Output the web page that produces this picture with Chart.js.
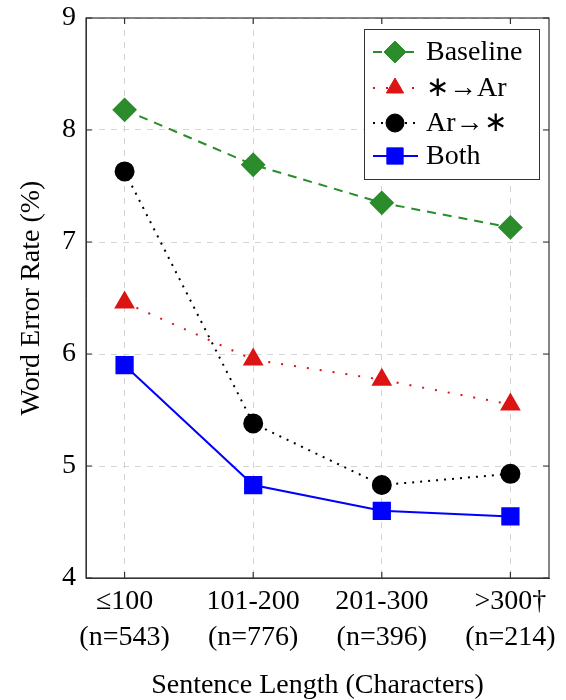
<!DOCTYPE html>
<html>
<head>
<meta charset="utf-8">
<script src="https://cdn.jsdelivr.net/npm/chart.js@4"></script>
<style>
  html, body { margin: 0; padding: 0; background: #fff; }
  #wrap { width: 566px; height: 700px; }
</style>
</head>
<body>
<div id="wrap"><canvas id="werChart" width="566" height="700"></canvas></div>
<script>
// categories (two-line tick labels)
var lengthLabels = [["\u2264100", "(n=543)"], ["101-200", "(n=776)"], ["201-300", "(n=396)"], [">300\u2020", "(n=214)"]];
var seriesNames = ["Baseline", "\u2217\u2192Ar", "Ar\u2192\u2217", "Both"];
var baseline = [8.18, 7.69, 7.35, 7.13];
var toAr = [6.46, 5.95, 5.77, 5.55];
var fromAr = [7.63, 5.38, 4.83, 4.93];
var both = [5.90, 4.83, 4.60, 4.55];
var yTicks = [4, 5, 6, 7, 8, 9];

var serif = "'Liberation Serif', 'Times New Roman', serif";
var fontSize = 28;

function points(values) {
    var out = [];
    for (var i = 0; i < values.length; i++) out.push({x: i, y: values[i]});
    return out;
}

// legend with line sample + marker, like pgfplots
var lineLegend = {
    id: 'lineLegend',
    afterDraw: function(chart) {
        var ctx = chart.ctx;
        var box = {x: 364, y: 29, w: 175, h: 150};
        ctx.save();
        ctx.fillStyle = '#fff';
        ctx.fillRect(box.x, box.y, box.w, box.h);
        ctx.strokeStyle = '#333';
        ctx.lineWidth = 1;
        ctx.strokeRect(box.x + 0.5, box.y + 0.5, box.w, box.h);
        var rowY = [52, 88, 123, 156];
        chart.data.datasets.forEach(function(ds, i) {
            var y = rowY[i];
            ctx.beginPath();
            ctx.setLineDash(ds.borderDash || []);
            ctx.strokeStyle = ds.borderColor;
            ctx.lineWidth = ds.borderWidth;
            ctx.moveTo(373, y);
            ctx.lineTo(418, y);
            ctx.stroke();
            ctx.setLineDash([]);
            ctx.fillStyle = ds.pointBackgroundColor;
            ctx.strokeStyle = ds.pointBackgroundColor;
            ctx.lineWidth = 1;
            Chart.helpers.drawPoint(ctx, {pointStyle: ds.pointStyle, radius: ds.pointRadius, borderWidth: 1}, 395, y);
            ctx.fillStyle = '#000';
            ctx.font = fontSize + 'px ' + serif;
            ctx.textBaseline = 'middle';
            ctx.fillText(ds.label, 426, y + 1);
        });
        ctx.restore();
    }
};

// plot frame plus small inward tick marks
var frame = {
    id: 'frame',
    afterDatasetsDraw: function(chart) {
        var a = chart.chartArea, ctx = chart.ctx;
        var xs = chart.scales.x, ys = chart.scales.y;
        ctx.save();
        ctx.strokeStyle = '#333';
        ctx.lineWidth = 1.2;
        ctx.strokeRect(a.left, a.top, a.right - a.left, a.bottom - a.top);
        ctx.beginPath();
        yTicks.forEach(function(v) {
            var py = ys.getPixelForValue(v);
            ctx.moveTo(a.left, py); ctx.lineTo(a.left + 6, py);
            ctx.moveTo(a.right, py); ctx.lineTo(a.right - 6, py);
        });
        lengthLabels.forEach(function(l, i) {
            var px = xs.getPixelForValue(i);
            ctx.moveTo(px, a.bottom); ctx.lineTo(px, a.bottom - 6);
            ctx.moveTo(px, a.top); ctx.lineTo(px, a.top + 6);
        });
        ctx.stroke();
        ctx.restore();
    }
};

new Chart(document.getElementById('werChart'), {
    type: 'line',
    data: {
        datasets: [
            {
                label: seriesNames[0],
                data: points(baseline),
                borderColor: 'rgb(42, 140, 42)',
                pointBackgroundColor: 'rgb(42, 140, 42)',
                pointBorderColor: 'rgb(42, 140, 42)',
                borderWidth: 2,
                borderDash: [9, 7],
                pointStyle: 'rectRot',
                pointRadius: 11
            },
            {
                label: seriesNames[1],
                data: points(toAr),
                borderColor: 'rgb(220, 20, 20)',
                pointBackgroundColor: 'rgb(220, 20, 20)',
                pointBorderColor: 'rgb(220, 20, 20)',
                borderWidth: 2,
                borderDash: [2, 11],
                pointStyle: 'triangle',
                pointRadius: 10
            },
            {
                label: seriesNames[2],
                data: points(fromAr),
                borderColor: '#000',
                pointBackgroundColor: '#000',
                pointBorderColor: '#000',
                borderWidth: 2,
                borderDash: [2, 6],
                pointStyle: 'circle',
                pointRadius: 9
            },
            {
                label: seriesNames[3],
                data: points(both),
                borderColor: '#0000ff',
                pointBackgroundColor: '#0000ff',
                pointBorderColor: '#0000ff',
                borderWidth: 2,
                pointStyle: 'rect',
                pointRadius: 11.5
            }
        ]
    },
    options: {
        responsive: false,
        animation: false,
        layout: {padding: {top: 0, right: 17, left: 0, bottom: 0}},
        plugins: {legend: {display: false}, tooltip: {enabled: false}},
        scales: {
            x: {
                type: 'linear',
                min: -0.3,
                max: 3.3,
                afterBuildTicks: function(scale) {
                    scale.ticks = lengthLabels.map(function(l, i) { return {value: i}; });
                },
                afterFit: function(scale) { scale.height = 122; },
                ticks: {
                    color: '#000',
                    font: {family: serif, size: fontSize, lineHeight: 1.28},
                    padding: 6,
                    maxRotation: 0,
                    callback: function(value) { return lengthLabels[value]; }
                },
                grid: {color: '#d4d4d4', drawTicks: false},
                border: {color: '#333', dash: [6, 6]},
                title: {
                    display: true,
                    text: 'Sentence Length (Characters)',
                    color: '#000',
                    font: {family: serif, size: fontSize},
                    padding: {top: 4, bottom: -2}
                }
            },
            y: {
                min: 4,
                max: 9,
                afterBuildTicks: function(scale) {
                    scale.ticks = yTicks.map(function(v) { return {value: v}; });
                },
                afterFit: function(scale) {
                    scale.width = 86;
                    scale.paddingTop = 18;
                    scale.paddingBottom = 0;
                },
                ticks: {
                    color: '#000',
                    font: {family: serif, size: fontSize},
                    padding: 10
                },
                grid: {color: '#d4d4d4', drawTicks: false},
                border: {color: '#333', dash: [6, 6]},
                title: {
                    display: true,
                    text: 'Word Error Rate (%)',
                    color: '#000',
                    font: {family: serif, size: fontSize},
                    padding: {top: 15, bottom: 0}
                }
            }
        }
    },
    plugins: [lineLegend, frame]
});
</script>
</body>
</html>
